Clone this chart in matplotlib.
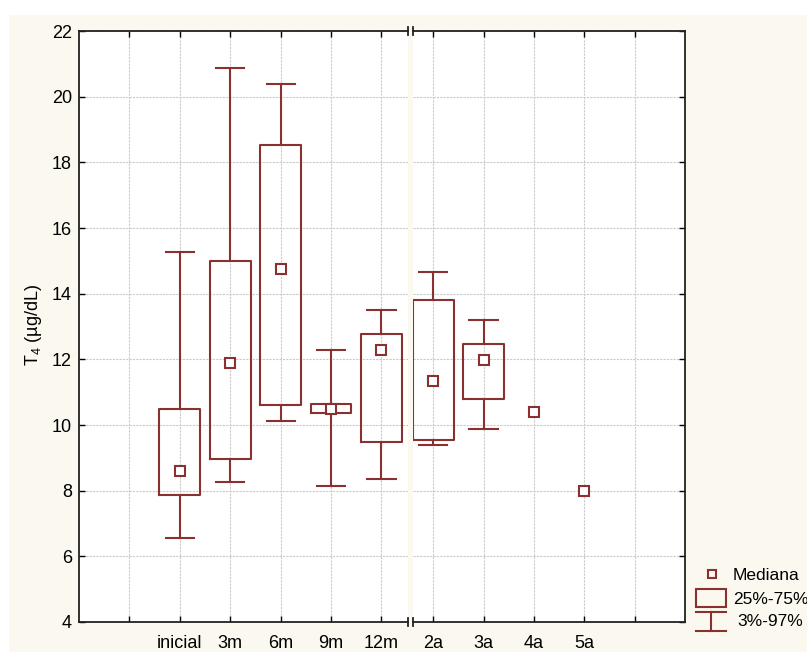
import matplotlib.pyplot as plt
from matplotlib.patches import Rectangle

plt.rcParams["font.family"] = ["Liberation Sans", "DejaVu Sans"]
plt.rcParams["mathtext.fontset"] = "custom"
plt.rcParams["mathtext.rm"] = "Liberation Sans"
plt.rcParams["mathtext.it"] = "Liberation Sans"
plt.rcParams["font.size"] = 13

# Seguimiento en meses (primer tramo)
mes_labels = ["inicial", "3m", "6m", "9m", "12m"]
mes_med = [8.60, 11.90, 14.75, 10.48, 12.28]
mes_q1 = [7.87, 8.95, 10.60, 10.37, 9.47]
mes_q3 = [10.49, 15.00, 18.52, 10.64, 12.78]
mes_p3 = [6.56, 8.27, 10.12, 8.14, 8.35]
mes_p97 = [15.26, 20.87, 20.39, 12.28, 13.50]

# Seguimiento en años (segundo tramo); 4a y 5a solo tienen mediana
anio_labels = ["2a", "3a", "4a", "5a"]
anio_med = [11.35, 11.98, 10.39, 8.00]
anio_q1 = [9.55, 10.78]
anio_q3 = [13.80, 12.47]
anio_p3 = [9.40, 9.88]
anio_p97 = [14.66, 13.20]

y_ticks = [4, 6, 8, 10, 12, 14, 16, 18, 20, 22]

RED = "#8B3030"
CREAM = "#FAF8EF"
GRID = "#cacaca"
W, H = 807, 652

fig = plt.figure(figsize=(W / 100, H / 100), dpi=100)
fig.patch.set_facecolor("white")
fig.add_artist(Rectangle((9 / W, 0), 1, 1 - 15 / H, transform=fig.transFigure,
                         facecolor=CREAM, edgecolor="none", zorder=-10))

bottom = 1 - 622 / H
height = (622 - 31) / H
ax1 = fig.add_axes([79 / W, bottom, (407.7 - 79) / W, height])
ax2 = fig.add_axes([413 / W, bottom, (685 - 413) / W, height])


def stats_of(q1, q3, lo, hi, med):
    return [dict(med=m, q1=a, q3=b, whislo=l, whishi=h, fliers=[])
            for a, b, l, h, m in zip(q1, q3, lo, hi, med)]


box_kw = dict(widths=0.81, capwidths=0.56, showfliers=False, manage_ticks=False,
              boxprops=dict(color=RED, linewidth=1.5),
              whiskerprops=dict(color=RED, linewidth=1.5),
              capprops=dict(color=RED, linewidth=1.5),
              medianprops=dict(visible=False))
mark_kw = dict(linestyle="none", marker="s", ms=7.3, mfc="white", mec=RED,
               mew=1.5, zorder=5)

pos1 = list(range(2, 2 + len(mes_labels)))
ax1.bxp(stats_of(mes_q1, mes_q3, mes_p3, mes_p97, mes_med), positions=pos1, **box_kw)
ax1.plot(pos1, mes_med, **mark_kw)

pos2 = list(range(len(anio_labels)))
ax2.bxp(stats_of(anio_q1, anio_q3, anio_p3, anio_p97, anio_med[:2]),
        positions=pos2[:2], **box_kw)
ax2.plot(pos2, anio_med, **mark_kw)

ax1.set_xlim(0, 6.52)
ax1.set_xticks(range(1, 7))
ax1.set_xticklabels([""] + mes_labels)
ax2.set_xlim(-0.4, 5.0)
ax2.set_xticks(range(5))
ax2.set_xticklabels(anio_labels + [""])

for ax in (ax1, ax2):
    ax.set_ylim(4, 22)
    ax.set_yticks(y_ticks)
    ax.set_facecolor("white")
    ax.grid(True, color=GRID, linestyle=(0, (2, 1)), linewidth=0.8)
    ax.set_axisbelow(True)
    for sp in ax.spines.values():
        sp.set_linewidth(1.3)
        sp.set_color("#222222")
    ax.tick_params(axis="x", direction="in", top=True, bottom=True,
                   length=4, width=1, pad=9, labelsize=13)
    ax.tick_params(axis="y", direction="in", length=4, width=1, pad=5,
                   labelsize=13)

ax1.spines["right"].set_visible(False)
ax2.spines["left"].set_visible(False)
ax2.tick_params(axis="y", left=False, right=True, labelleft=False)

# marcas del corte del eje
for ax, xe in ((ax1, 1), (ax2, 0)):
    for ye in (0, 1):
        ax.plot([xe, xe], [ye - 0.006, ye + 0.006], transform=ax.transAxes,
                color="#222222", linewidth=1.3, clip_on=False)

fig.text(34 / W, 1 - 325 / H, r"T$_4$ (µg/dL)", rotation=90,
         ha="center", va="center", fontsize=13)

# leyenda
lax = fig.add_axes([685 / W, 0, 122 / W, 97 / H])
lax.set_xlim(685, 807)
lax.set_ylim(652, 555)
lax.axis("off")
lax.plot([712], [574], linestyle="none", marker="s", ms=6, mfc="none",
         mec=RED, mew=1.5)
lax.add_patch(Rectangle((696, 589), 30, 18, facecolor="none", edgecolor=RED,
                        linewidth=1.5))
lax.plot([696, 726], [612, 612], color=RED, linewidth=1.5)
lax.plot([711, 711], [612, 631], color=RED, linewidth=1.5)
lax.plot([696, 726], [631, 631], color=RED, linewidth=1.5)
lax.text(733, 575, "Mediana", va="center", fontsize=12.5, clip_on=False)
lax.text(733, 599, "25%-75%", va="center", fontsize=12.5, clip_on=False)
lax.text(737, 622, "3%-97%", va="center", fontsize=12.5, clip_on=False)

fig.savefig("out.png", dpi=100)
